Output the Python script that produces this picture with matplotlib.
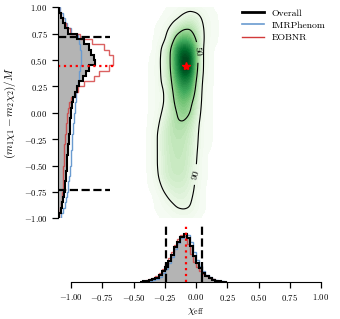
import numpy as np
import matplotlib
matplotlib.use('Agg')
import matplotlib.pyplot as plt
from matplotlib.lines import Line2D

plt.rcParams['font.family'] = ['cmr10', 'DejaVu Serif']
plt.rcParams['mathtext.fontset'] = 'cm'
plt.rcParams['axes.formatter.use_mathtext'] = True
plt.rcParams['axes.unicode_minus'] = True

# left marginal: (m1 chi1 - m2 chi2)/M, bins of 0.05 from -1 to 1 (bottom -> top)
diff_edges = np.linspace(-1, 1, 41)
diff_overall = [1, 3, 4, 5, 6, 7, 7, 8, 8, 9, 9, 9, 10, 10, 11, 11, 12, 12, 12, 13,
                13, 14, 15, 17, 19, 21, 25, 28, 31, 37, 36, 33, 31, 26, 19, 10, 7, 5, 3, 1]
diff_imr = [3, 5, 7, 8, 9, 10, 10, 11, 12, 12, 13, 13, 13, 14, 14, 14, 15, 15, 16, 16,
            17, 17, 18, 18, 19, 20, 21, 21, 22, 23, 23, 23, 22, 21, 20, 13, 9, 7, 5, 2]
diff_eob = [1, 2, 3, 4, 4, 5, 5, 5, 5, 5, 6, 6, 6, 6, 7, 7, 8, 8, 9, 9,
            10, 11, 13, 17, 20, 26, 36, 41, 51, 55, 55, 51, 46, 34, 22, 12, 8, 5, 3, 1]

# bottom marginal: chi_eff, bins of 0.025 from -0.45 to 0.25
chi_edges = np.linspace(-0.45, 0.25, 29)
chi_overall = [0.5, 1, 1.5, 2, 3, 4.5, 7, 11, 15, 21, 27, 35, 40, 45, 48, 44, 36, 26,
               19, 14, 9, 6, 4, 2, 1.5, 1, 0.5, 0.2]
chi_imr = [0.3, 0.5, 1, 1.5, 2, 3.5, 5.5, 9, 13, 19, 25, 33, 39, 44, 48, 47, 40, 30,
           22, 16, 11, 7, 5, 3, 2, 1, 0.6, 0.3]
chi_eob = [0.5, 1, 2, 3, 4, 6, 9, 13, 18, 24, 30, 37, 43, 47, 46, 38, 28, 20,
           15, 11, 8, 6, 4, 3, 1.5, 1, 0.5, 0.2]

# credible bounds and maximum
chi_lo, chi_hi = -0.24, 0.045
diff_lo, diff_hi = -0.73, 0.72
best_chi, best_diff = -0.08, 0.44

# joint density read on a coarse grid (rows from y=1.0 down to y=-1.0)
grid_x = [-0.35, -0.30, -0.25, -0.20, -0.15, -0.10, -0.05, 0.00, 0.05, 0.10, 0.15]
grid_y = np.round(np.linspace(1.0, -1.0, 21), 2)
density = [
    [0, 0, 0, 1, 2, 3, 4, 3, 2, 1, 0],
    [0, 0, 1, 3, 6, 11, 15, 13, 7, 3, 1],
    [0, 1, 4, 10, 20, 30, 32, 22, 9, 4, 1],
    [0, 2, 6, 20, 44, 55, 50, 32, 10, 3, 1],
    [0, 4, 14, 34, 70, 85, 78, 44, 8, 2, 0],
    [1, 5, 15, 35, 72, 98, 92, 45, 8, 2, 0],
    [1, 5, 14, 34, 68, 93, 88, 40, 8, 2, 0],
    [1, 5, 12, 30, 58, 75, 68, 33, 6, 2, 0],
    [1, 4, 8, 26, 48, 60, 55, 28, 5, 1, 0],
    [1, 4, 8, 24, 41, 48, 40, 22, 5, 1, 0],
    [1, 5, 11, 22, 34, 41, 34, 18, 4, 1, 0],
    [2, 7, 15, 25, 32, 31, 25, 13, 3, 1, 0],
    [3, 9, 18, 25, 28, 27, 21, 11, 3, 1, 0],
    [3, 9, 18, 24, 26, 25, 19, 10, 3, 1, 0],
    [3, 9, 17, 23, 25, 24, 18, 9, 2, 0, 0],
    [3, 9, 17, 22, 24, 23, 17, 8, 2, 0, 0],
    [2, 8, 16, 21, 22, 21, 15, 7, 2, 0, 0],
    [1, 5, 11, 16, 18, 17, 13, 6, 1, 0, 0],
    [0, 2, 6, 10, 13, 13, 10, 5, 1, 0, 0],
    [0, 1, 3, 5, 8, 9, 8, 4, 1, 0, 0],
    [0, 0, 1, 2, 3, 3, 3, 1, 0, 0, 0],
]
levels = [8, 33]
level_names = {8: '90', 33: '50'}

# put the grid on a finer mesh and smooth it lightly
gx = np.concatenate([[-0.45, -0.40], grid_x, [0.20, 0.25]])
gy = np.concatenate([[-1.1], grid_y[::-1], [1.1]])
g = np.pad(np.array(density, float)[::-1], ((1, 1), (2, 2)))
fx = np.linspace(gx[0], gx[-1], 141)
fy = np.linspace(gy[0], gy[-1], 221)
tmp = np.array([np.interp(fx, gx, row) for row in g])
fine = np.array([np.interp(fy, gy, col) for col in tmp.T]).T
k = np.exp(-0.5 * (np.arange(-8, 9) / 3.0) ** 2)
k /= k.sum()
fine = np.apply_along_axis(lambda r: np.convolve(r, k, mode='same'), 1, fine)
fine = np.apply_along_axis(lambda c: np.convolve(c, k, mode='same'), 0, fine)

fig = plt.figure(figsize=(3.4, 3.19), dpi=100)
ax_main = fig.add_axes([71/340, 1-218.3/319, 250/340, 211/319])
ax_left = fig.add_axes([58/340, 1-218.3/319, 70/340, 211/319])
ax_bot = fig.add_axes([71/340, 1-282/319, 250/340, 58/319])
for a in (ax_main, ax_left, ax_bot):
    a.patch.set_visible(False)

# joint plot
shade = np.ma.masked_less(fine, 0.4)
ax_main.contourf(fx, fy, shade, levels=np.linspace(0.4, fine.max(), 40), cmap='Greens')
cs = ax_main.contour(fx, fy, fine, levels=levels, colors='k', linewidths=0.8)
ax_main.clabel(cs, fmt=level_names, fontsize=7, inline=True,
               manual=[(0.0, -0.59), (0.0, 0.57)])
ax_main.plot(best_chi, best_diff, marker='*', color='red', ms=6, mec='red')
ax_main.set_xlim(-1, 1)
ax_main.set_ylim(-1, 1)
ax_main.axis('off')

gray = '#b4b4b4'
blue = '#6a9bd0'
red = '#d23a3a'

# left marginal
ax_left.stairs(diff_overall, diff_edges, orientation='horizontal', fill=True, color=gray)
ax_left.stairs(diff_imr, diff_edges, orientation='horizontal', color=blue, lw=1)
ax_left.stairs(diff_eob, diff_edges, orientation='horizontal', color=red, lw=1, alpha=0.8)
ax_left.stairs(diff_overall, diff_edges, orientation='horizontal', color='k', lw=1.5)
ax_left.axhline(diff_lo, xmax=52/70, color='k', ls='--', lw=1.6)
ax_left.axhline(diff_hi, xmax=52/70, color='k', ls='--', lw=1.6)
ax_left.axhline(best_diff, xmax=56/70, color='red', ls=':', lw=1.6)
ax_left.set_xlim(0, 70)
ax_left.set_ylim(-1, 1)
ax_left.set_yticks(np.linspace(-1, 1, 9))
ax_left.set_xticks([])
for s in ('top', 'right', 'bottom'):
    ax_left.spines[s].set_visible(False)
ax_left.tick_params(axis='y', labelsize=6.3, length=4, width=0.9)
ax_left.set_ylabel(r'$(m_1\chi_1 - m_2\chi_2)/M$', fontsize=8)

# bottom marginal
ax_bot.stairs(chi_overall, chi_edges, fill=True, color=gray)
ax_bot.stairs(chi_imr, chi_edges, color=blue, lw=1)
ax_bot.stairs(chi_eob, chi_edges, color=red, lw=1, alpha=0.8)
ax_bot.stairs(chi_overall, chi_edges, color='k', lw=1.5)
ax_bot.axvline(chi_lo, color='k', ls='--', lw=1.6)
ax_bot.axvline(chi_hi, color='k', ls='--', lw=1.6)
ax_bot.axvline(best_chi, color='red', ls=':', lw=1.6)
ax_bot.set_xlim(-1, 1)
ax_bot.set_ylim(0, 58)
ax_bot.set_xticks(np.linspace(-1, 1, 9))
ax_bot.set_yticks([])
for s in ('top', 'right', 'left'):
    ax_bot.spines[s].set_visible(False)
ax_bot.tick_params(axis='x', labelsize=6.3, length=4, width=0.9)
ax_bot.set_xlabel(r'$\chi_{\rm eff}$', fontsize=8, labelpad=2)

handles = [Line2D([], [], color='k', lw=2),
           Line2D([], [], color=blue, lw=1.2),
           Line2D([], [], color=red, lw=1)]
fig.legend(handles, ['Overall', 'IMRPhenom', 'EOBNR'], loc='upper right',
           bbox_to_anchor=(334/340, 1.0), frameon=False, fontsize=7,
           handlelength=2.2, labelspacing=0.35)

fig.savefig('out.png', dpi=100)
